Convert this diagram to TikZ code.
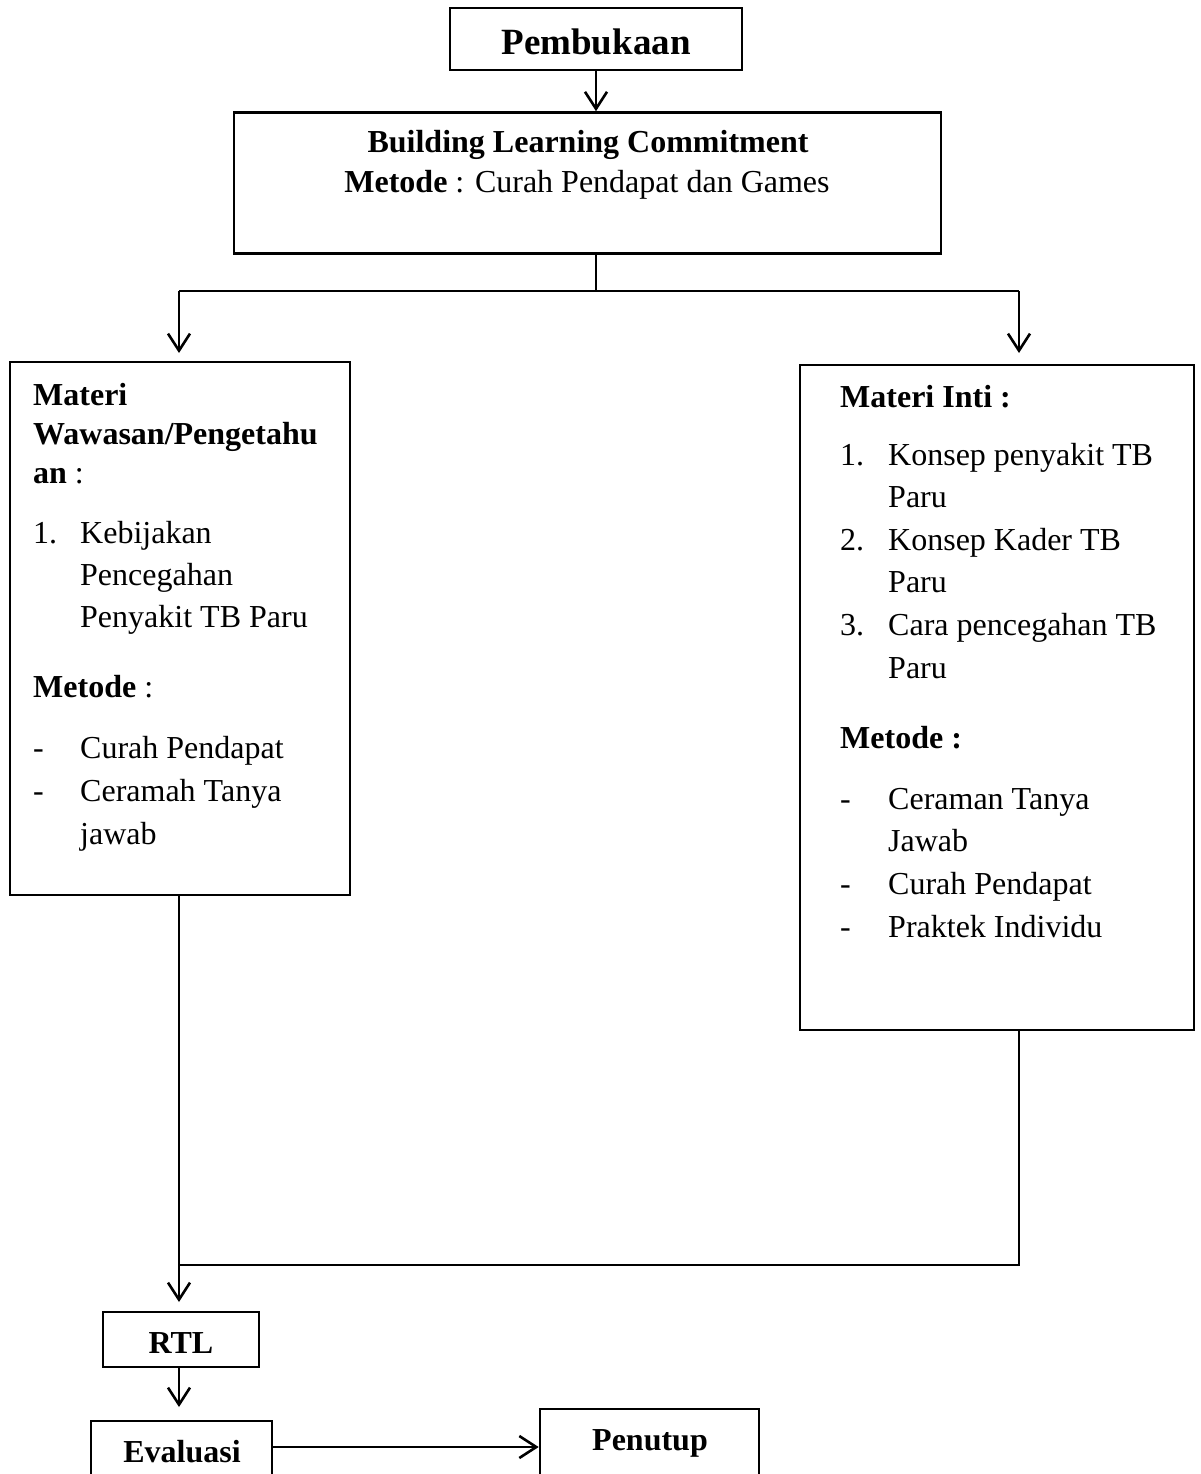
\documentclass[tikz,border=0pt]{standalone}
\usepackage{fontspec}
\setmainfont{Liberation Serif}
\usetikzlibrary{arrows.meta}
\begin{document}
\begin{tikzpicture}[x=1pt,y=-1pt,
  box/.style={draw=black,line width=2.6pt,inner sep=0pt,rectangle},
  txt/.style={inner sep=0pt,font=\fontsize{32}{38}\selectfont},
  lt/.style={txt,anchor=base west},
  ct/.style={txt,anchor=base},
  conn/.style={line width=2.6pt},
  arr/.style={conn,-{Straight Barb[length=17pt,width=22pt,line width=2.6pt]}}]
\useasboundingbox (0,0) rectangle (1200,1474);
\clip (0,0) rectangle (1200,1474);
% boxes
\node[box,minimum width=292pt,minimum height=62pt] (pem) at (596,39) {};
\node[box,minimum width=707pt,minimum height=141pt] (blc) at (587.5,183) {};
\node[box,minimum width=340pt,minimum height=533pt] (lbox) at (180,628.5) {};
\node[box,minimum width=394pt,minimum height=665pt] (rbox) at (997,697.5) {};
\node[box,minimum width=156pt,minimum height=55pt] (rtl) at (181,1339.5) {};
\node[box,minimum width=181pt,minimum height=100pt] (eva) at (181.5,1471) {};
\node[box,minimum width=219pt,minimum height=110pt] (pen) at (649.5,1464) {};
% texts
\node[ct,font=\fontsize{37}{44}\selectfont\bfseries] (pemt) at (596,55) {Pembukaan};
\node[ct] (blct1) at (588,153) {\bfseries Building Learning Commitment};
\node[ct] (blct2) at (587,193) {\textbf{Metode} : Curah Pendapat dan Games};
\node[ct] (rtlt) at (181,1353) {\bfseries RTL};
\node[ct] (evat) at (182,1462) {\bfseries Evaluasi};
\node[ct] (pent) at (650,1450) {\bfseries Penutup};
% left box text
\node[lt] (l1) at (33,405) {\bfseries Materi};
\node[lt] (l2) at (33,444) {\bfseries Wawasan/Pengetahu};
\node[lt] (l3) at (33,483) {\textbf{an} :};
\node[lt] (l4n) at (33,543) {1.};
\node[lt] (l4) at (80,543) {Kebijakan};
\node[lt] (l5) at (80,585) {Pencegahan};
\node[lt] (l6) at (80,627) {Penyakit TB Paru};
\node[lt] (l7) at (33,697) {\textbf{Metode} :};
\node[lt] (l8d) at (33,758) {-};
\node[lt] (l8) at (80,758) {Curah Pendapat};
\node[lt] (l9d) at (33,801) {-};
\node[lt] (l9) at (80,801) {Ceramah Tanya};
\node[lt] (l10) at (80,844) {jawab};
% right box text
\node[lt] (r1) at (840,407) {\bfseries Materi Inti :};
\node[lt] (r2n) at (840,465) {1.};
\node[lt] (r2) at (888,465) {Konsep penyakit TB};
\node[lt] (r3) at (888,507) {Paru};
\node[lt] (r4n) at (840,550) {2.};
\node[lt] (r4) at (888,550) {Konsep Kader TB};
\node[lt] (r5) at (888,592) {Paru};
\node[lt] (r6n) at (840,635) {3.};
\node[lt] (r6) at (888,635) {Cara pencegahan TB};
\node[lt] (r7) at (888,678) {Paru};
\node[lt] (r8) at (840,748) {\bfseries Metode :};
\node[lt] (r9d) at (840,809) {-};
\node[lt] (r9) at (888,809) {Ceraman Tanya};
\node[lt] (r10) at (888,851) {Jawab};
\node[lt] (r11d) at (840,894) {-};
\node[lt] (r11) at (888,894) {Curah Pendapat};
\node[lt] (r12d) at (840,937) {-};
\node[lt] (r12) at (888,937) {Praktek Individu};
% coordinates
\coordinate (bsp) at (596,291);
\coordinate (lsp) at (179,291);
\coordinate (rsp) at (1019,291);
\coordinate (ltip) at (179,353);
\coordinate (rtip) at (1019,353);
\coordinate (lj) at (179,1265);
\coordinate (rj) at (1019,1265);
\coordinate (rtltip) at (179,1302);
\coordinate (evatip) at (179,1407);
% connectors
\draw[arr] (pem.south -| bsp) -- (blc.north -| bsp);
\draw[conn] (blc.south -| bsp) -- (bsp);
\draw[conn] (lsp) -- (rsp);
\draw[arr] (lsp) -- (ltip);
\draw[arr] (rsp) -- (rtip);
\draw[conn] (lbox.south -| lj) -- (lj);
\draw[conn] (rbox.south -| rj) -- (rj) -- (lj);
\draw[arr] (lj) -- (rtltip);
\draw[arr] (rtl.south -| evatip) -- (evatip);
\draw[arr] (eva.east |- 0,1447) -- (pen.west |- 0,1447);
\end{tikzpicture}
\end{document}
